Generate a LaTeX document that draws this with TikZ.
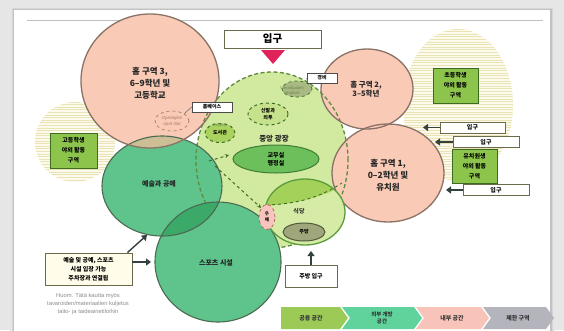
\documentclass[tikz,border=0pt]{standalone}
\usepackage{fontspec}
\setmainfont{Noto Sans CJK KR}
\newfontfamily\latinf{Liberation Sans}
\usetikzlibrary{shapes.geometric,arrows.meta,shadows}
\definecolor{bgout}{HTML}{E6E6E6}
\definecolor{pinkfill}{HTML}{F9CAB6}
\definecolor{pinkline}{HTML}{8A7266}
\definecolor{artfill}{HTML}{5EC48B}
\definecolor{artline}{HTML}{4B6A52}
\definecolor{overgreen}{HTML}{3BA968}
\definecolor{tanfill}{HTML}{CDBE96}
\definecolor{centfill}{HTML}{D2E9A0}
\definecolor{centdash}{HTML}{5E8C3C}
\definecolor{stripebg}{HTML}{FBFAEC}
\definecolor{stripecol}{HTML}{EAE4B4}
\definecolor{boxgreen}{HTML}{8CC44C}
\definecolor{boxgreenline}{HTML}{3E6A22}
\definecolor{officefill}{HTML}{6CBF5B}
\definecolor{officeline}{HTML}{3D7D33}
\definecolor{smallfill}{HTML}{A9D25E}
\definecolor{darkdash}{HTML}{3F6E25}
\definecolor{dinefill}{HTML}{D6ECA6}
\definecolor{dineband}{HTML}{A3D159}
\definecolor{dineline}{HTML}{5A9C3C}
\definecolor{kitfill}{HTML}{A0A67C}
\definecolor{kitline}{HTML}{4E5A3A}
\definecolor{postfill}{HTML}{F7C4BE}
\definecolor{postline}{HTML}{B45A5A}
\definecolor{vahfill}{HTML}{A9B984}
\definecolor{crimson}{HTML}{E0245A}
\definecolor{arrowgray}{HTML}{34413F}
\definecolor{chevA}{HTML}{9BCB56}
\definecolor{chevB}{HTML}{5FD39B}
\definecolor{chevC}{HTML}{F8C3B8}
\definecolor{chevD}{HTML}{B4B4BC}
\definecolor{notefill}{HTML}{FFFDEA}
\definecolor{noteline}{HTML}{6B6A4A}
\definecolor{faintgreen}{HTML}{6F8450}
\definecolor{opetcol}{HTML}{B07868}
\begin{document}
\begin{tikzpicture}[x=1pt,y=-1pt,
  bigtxt/.style={align=center,font=\bfseries\fontsize{8.5}{12}\selectfont,text=black!85},
  gtxt/.style={align=center,font=\bfseries\fontsize{7}{9}\selectfont,text=black!85},
  zonebox/.style={draw=boxgreenline,line width=.9,fill=boxgreen,align=center,
    font=\bfseries\fontsize{6}{10}\selectfont,inner sep=0,minimum width=45pt,minimum height=35pt},
  entbox/.style={draw=noteline,fill=white,line width=.8,font=\bfseries\fontsize{6}{7}\selectfont,
    minimum height=11pt,inner sep=0,drop shadow={shadow xshift=.8pt,shadow yshift=-.8pt,opacity=.35}},
  labbox/.style={draw=black!70,fill=white,line width=.7,font=\bfseries\fontsize{5}{6}\selectfont,
    minimum height=10pt,inner sep=0,drop shadow={shadow xshift=.7pt,shadow yshift=-.7pt,opacity=.35}},
  blkarrow/.style={draw=arrowgray,line width=1.8,-{Triangle[length=5pt,width=7pt]}},
  dasharr/.style={draw=darkdash,line width=1,dashed,-{Stealth[length=4pt,width=4pt]}},
  labline/.style={draw=black!55,line width=.6},
  smallell/.style={ellipse,inner sep=0,draw=darkdash,line width=1,dashed,align=center,
    font=\bfseries\fontsize{5}{6.5}\selectfont},
  faint/.style={align=center,text=faintgreen,font=\latinf\fontsize{4.2}{5.5}\selectfont},
  chevtxt/.style={align=center,font=\bfseries\fontsize{6}{7.5}\selectfont,text=black!80}]
\useasboundingbox (0,0) rectangle (564,330);
% background and panel
\fill[bgout] (0,0) rectangle (564,330);
\fill[black!10] (10,6) rectangle (555,332);
\fill[black!16] (12,8) rectangle (553,332);
\fill[black!24] (13,9) rectangle (551.5,332);
\fill[white] (14,10) rectangle (550,332);
\draw[black!25,line width=.8] (27,20) -- (543,20);
% striped outdoor areas
\begin{scope}
  \clip (458,105) ellipse [x radius=55pt,y radius=76pt];
  \fill[stripebg] (400,25) rectangle (520,185);
  \foreach \yy in {29,31.6,...,182} \draw[stripecol,line width=1] (400,\yy) -- (520,\yy);
\end{scope}
\begin{scope}
  \clip (75,142) ellipse [x radius=40pt,y radius=40pt];
  \fill[stripebg] (30,100) rectangle (120,185);
  \foreach \yy in {102,104.6,...,184} \draw[stripecol,line width=1] (30,\yy) -- (120,\yy);
\end{scope}
% central square
\fill[centfill] (272,160) ellipse [x radius=76pt,y radius=88pt];
% arts circle
\fill[artfill] (162,186) ellipse [x radius=60pt,y radius=50pt];
% pink home zones
\fill[pinkfill] (150,81) ellipse [x radius=69pt,y radius=67pt];
\fill[pinkfill] (367,89) ellipse [x radius=46pt,y radius=40pt];
\fill[pinkfill] (388,173) ellipse [x radius=56pt,y radius=49pt];
\begin{scope}
  \clip (162,186) ellipse [x radius=60pt,y radius=50pt];
  \fill[tanfill] (150,81) ellipse [x radius=69pt,y radius=67pt];
\end{scope}
% central dashed border
\draw[centdash,line width=1.3,dash pattern=on 4pt off 2.5pt] (272,160) ellipse [x radius=76pt,y radius=88pt];
% sports circle
\fill[artfill] (218,262) ellipse [x radius=63pt,y radius=60pt];
\begin{scope}
  \clip (162,186) ellipse [x radius=60pt,y radius=50pt];
  \fill[overgreen] (218,262) ellipse [x radius=63pt,y radius=60pt];
\end{scope}
% outlines
\draw[artline,line width=1.1] (162,186) ellipse [x radius=60pt,y radius=50pt];
\draw[artline,line width=1.1] (218,262) ellipse [x radius=63pt,y radius=60pt];
\draw[pinkline,line width=1.3] (150,81) ellipse [x radius=69pt,y radius=67pt];
\draw[pinkline,line width=1.3] (367,89) ellipse [x radius=46pt,y radius=40pt];
\draw[pinkline,line width=1.3] (388,173) ellipse [x radius=56pt,y radius=49pt];
% dining circle
\fill[dinefill] (305,212) ellipse [x radius=40pt,y radius=33pt];
\begin{scope}
  \clip (305,212) ellipse [x radius=40pt,y radius=33pt];
  \fill[dineband] (255,170) -- (355,170) -- (355,180) .. controls (325,196) and (300,204) .. (262,206) -- cycle;
\end{scope}
\draw[darkdash,line width=.9,dashed] (266,205) .. controls (300,204) and (322,196) .. (342,183);
\draw[dineline,line width=1.3] (305,212) ellipse [x radius=40pt,y radius=33pt];
% zone labels
\node[bigtxt] (z3) at (150,83) {홈 구역 3,\\6–9학년 및\\고등학교};
\node[bigtxt,font=\bfseries\fontsize{7.5}{9.5}\selectfont] (z2) at (366,89) {홈 구역 2,\\3–5학년};
\node[bigtxt] (z1) at (388,175) {홈 구역 1,\\0–2학년 및\\유치원};
\node[gtxt] (art) at (159,184) {예술과 공예};
\node[gtxt] (sport) at (216,263) {스포츠 시설};
\node[bigtxt,font=\bfseries\fontsize{7.5}{9}\selectfont] (plaza) at (274,139) {중앙 광장};
% inner spaces
\node[ellipse,inner sep=0,draw=officeline,line width=1,fill=officefill,minimum width=86pt,minimum height=28pt,
  align=center,font=\bfseries\fontsize{6}{8}\selectfont] (office) at (276,159) {교무실\\행정실};
\node[smallell,fill=smallfill,minimum width=30pt,minimum height=19pt] (lib) at (220,133) {도서관};
\node[faint] (libfi) at (220,125) {Kirjasto};
\node[smallell,fill=centfill!70!smallfill,minimum width=40pt,minimum height=22pt] (shoe) at (268,114) {신발과\\외투};
\node[ellipse,inner sep=0,draw=darkdash,dashed,line width=.7,fill=vahfill,minimum width=30pt,minimum height=16pt] (vah) at (297,89) {};
\node[faint] (vahfi) at (292,91) {Vierailijoiden\\infopiste};
\node[ellipse,inner sep=0,draw=opetcol,dashed,line width=.7,minimum width=34pt,minimum height=20pt] (opet) at (172,121) {};
\node[align=center,text=opetcol,font=\latinf\itshape\fontsize{4.5}{6}\selectfont] (opettxt) at (172,121) {Opettajien\\opet tilat};
\node[ellipse,inner sep=0,draw=kitline,line width=1,fill=kitfill,minimum width=42pt,minimum height=18pt,
  font=\bfseries\fontsize{5}{6}\selectfont] (kitchen) at (304,232) {주방};
\node[font=\bfseries\fontsize{6}{7}\selectfont,text=black!80] (dining) at (299,211) {식당};
\node[ellipse,inner sep=0,draw=postline,dashed,line width=.7,fill=postfill,minimum width=16pt,minimum height=25pt,
  align=center,font=\bfseries\fontsize{4.5}{6}\selectfont] (post) at (267,217) {우\\체};
% dashed movement arrows
\coordinate (d1s) at (209,161);
\coordinate (d1e) at (229,155);
\coordinate (d2s) at (215,166);
\draw[dasharr] (d1s) -- (d1e);
\draw[dasharr] (d2s) -- (post.north west);
% label boxes
\node[labbox,minimum width=40pt] (hb) at (212,107) {홈베이스};
\node[labbox,minimum width=30pt] (gb) at (322,78) {경비};
\draw[labline] (hb.west) -- (opet.north east);
\draw[labline] (gb.west) -- (vah.north east);
% top entrance
\node[entbox,minimum width=97pt,minimum height=18pt,font=\bfseries\fontsize{10.5}{12}\selectfont] (mainent) at (272.5,39) {입구};
\fill[crimson] (261,50) -- (285,50) -- (273,64) -- cycle;
% outdoor zone boxes
\node[zonebox] (zelem) at (455.5,85.5) {초등학생\\야외 활동\\구역};
\node[zonebox,minimum height=34pt] (zkind) at (474.5,166) {유치원생\\야외 활동\\구역};
\node[zonebox,minimum width=47pt] (zhigh) at (73.5,150.5) {고등학생\\야외 활동\\구역};
% side entrances
\node[entbox,minimum width=65pt] (ent1) at (472.5,127.5) {입구};
\node[entbox,minimum width=66pt] (ent2) at (486,142) {입구};
\node[entbox,minimum width=66pt] (ent3) at (496,190) {입구};
\coordinate (e1t) at (423,127.5);
\coordinate (e2t) at (435,142);
\coordinate (e3t) at (446,190);
\draw[blkarrow] (ent1.west) -- (e1t);
\draw[blkarrow] (ent2.west) -- (e2t);
\draw[blkarrow] (ent3.west) -- (e3t);
% kitchen entrance
\node[entbox,minimum width=52pt,minimum height=22pt] (kent) at (311,276) {주방 입구};
\coordinate (kt) at (311,251);
\draw[blkarrow,line width=1.5] (kent.north) -- (kt);
% note box
\node[draw=noteline,line width=.9,fill=notefill,minimum width=87pt,minimum height=32pt,inner sep=0,align=center,
  font=\bfseries\fontsize{6}{9}\selectfont,drop shadow={shadow xshift=.8pt,shadow yshift=-.8pt,opacity=.35}] (note) at (88.5,269)
  {예술 및 공예, 스포츠\\시설 입장 가능\\주차장과 연결됨};
\coordinate (artA) at (151,262);
\coordinate (artB) at (147,235);
\draw[blkarrow,line width=1.4] (note.east |- artA) -- (artA);
\draw[blkarrow,line width=1.4] ([xshift=-5pt]note.north east) -- (artB);
\node[align=center,text=black!45,font=\latinf\fontsize{5.8}{8.3}\selectfont] (fin) at (88,304)
  {Huom. Tätä kautta myös\\tavaroiden/materiaalien kuljetus\\taito- ja taideainetiloihin};
% legend chevrons
\fill[chevA] (281,307) -- (340,307) -- (348,318) -- (340,329) -- (281,329) -- cycle;
\fill[chevB] (342,307) -- (414,307) -- (422,318) -- (414,329) -- (342,329) -- (350,318) -- cycle;
\fill[chevC] (416,307) -- (481,307) -- (489,318) -- (481,329) -- (416,329) -- (424,318) -- cycle;
\fill[chevD] (483,307) -- (546,307) -- (554,318) -- (546,329) -- (483,329) -- (491,318) -- cycle;
\node[chevtxt] (l1) at (311,318) {공용 공간};
\node[chevtxt,font=\bfseries\fontsize{5.5}{7.5}\selectfont] (l2) at (382,318) {외부 개방\\공간};
\node[chevtxt] (l3) at (452,318) {내부 공간};
\node[chevtxt] (l4) at (518,318) {제한 구역};
\end{tikzpicture}
\end{document}
